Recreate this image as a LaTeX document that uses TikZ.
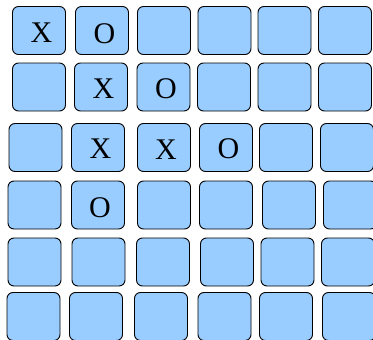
\documentclass[tikz,border=0pt]{standalone}
\usepackage{fontspec}
\setmainfont{Liberation Serif}
\usepackage{tikz}
\usetikzlibrary{calc}
\definecolor{cellblue}{RGB}{153, 204, 255}

\tikzset{
    cellbox/.style={draw=black, fill=cellblue, line width=0.9pt, rounded corners=6pt,
        minimum width=53pt, minimum height=48pt, inner sep=0pt},
    letter/.style={font=\fontsize{30}{30}\selectfont, inner sep=0pt}
}

\begin{document}
\begin{tikzpicture}[x=1pt, y=-1pt]
    \useasboundingbox (0,0) rectangle (373,340);
    \clip (0,0) rectangle (373,340);

    % board
    \foreach \r/\y/\xs in {1/30.5/{39,102,164,224.5,284.5,345},
                           2/87/{39,101,163.5,224,284.5,345},
                           3/147.5/{35.5,98,164,226,286,347},
                           4/205/{34.5,98,164,226,289,350},
                           5/262/{34.5,98.5,163,227,287.5,348},
                           6/316.5/{33.5,96,161,224.5,286,349}}
        \foreach \x [count=\c] in \xs
            \node[cellbox] (c\r\c) at (\x, \y) {};

    % moves
    \node[letter] at ($(c11)+(2.5,2.5)$) {X};
    \node[letter] at ($(c12)+(2.5,3.5)$) {O};
    \node[letter] at ($(c22)+(2.5,2)$) {X};
    \node[letter] at ($(c23)+(2.5,2)$) {O};
    \node[letter] at ($(c32)+(2.5,1)$) {X};
    \node[letter] at ($(c33)+(2,2)$) {X};
    \node[letter] at ($(c34)+(2.5,1.5)$) {O};
    \node[letter] at ($(c42)+(2,3)$) {O};
\end{tikzpicture}
\end{document}
